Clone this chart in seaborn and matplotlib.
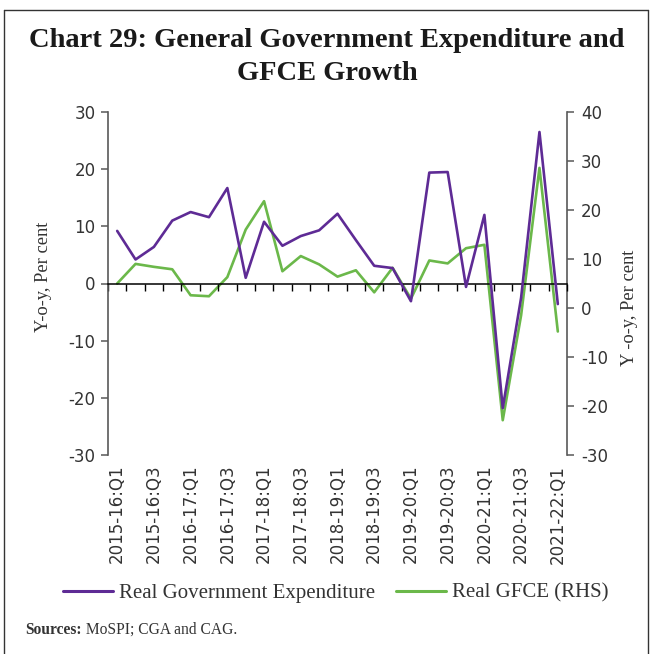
import numpy as np
import pandas as pd
import matplotlib
matplotlib.use("Agg")
import matplotlib.pyplot as plt
from matplotlib.lines import Line2D
from matplotlib.font_manager import FontProperties
import seaborn as sns

# Quarterly y-o-y growth, per cent
quarters = [
    "2015-16:Q1", "2015-16:Q2", "2015-16:Q3", "2015-16:Q4",
    "2016-17:Q1", "2016-17:Q2", "2016-17:Q3", "2016-17:Q4",
    "2017-18:Q1", "2017-18:Q2", "2017-18:Q3", "2017-18:Q4",
    "2018-19:Q1", "2018-19:Q2", "2018-19:Q3", "2018-19:Q4",
    "2019-20:Q1", "2019-20:Q2", "2019-20:Q3", "2019-20:Q4",
    "2020-21:Q1", "2020-21:Q2", "2020-21:Q3", "2020-21:Q4",
    "2021-22:Q1",
]
gov_expenditure = [9.2, 4.2, 6.4, 11.0, 12.5, 11.6, 16.7, 1.0, 10.8, 6.6,
                   8.3, 9.3, 12.2, 7.6, 3.1, 2.7, -3.1, 19.4, 19.5, -0.6,
                   12.0, -21.8, -2.5, 26.5, -3.6]
gfce_rhs = [5.0, 9.0, 8.4, 7.9, 2.6, 2.4, 6.3, 16.0, 21.8, 7.5,
            10.6, 8.9, 6.4, 7.7, 3.2, 8.2, 1.9, 9.7, 9.1, 12.2,
            12.9, -22.9, -1.5, 28.6, -4.8]
left_ticks = [-30, -20, -10, 0, 10, 20, 30]
right_ticks = [-30, -20, -10, 0, 10, 20, 30, 40]

PURPLE = "#5E2B95"
GREEN = "#6BB84A"
SPINE = "#595959"
TEXT = "#333333"

sns.set_style("white")
plt.rcParams["font.family"] = ["DejaVu Sans"]
plt.rcParams["axes.unicode_minus"] = False

serif = "Liberation Serif"
W = H = 654

fig = plt.figure(figsize=(6.54, 6.54), dpi=100)
ax = fig.add_axes([108 / W, 1 - 455 / H, (567 - 108) / W, (455 - 112) / H])
ax2 = ax.twinx()

df = pd.DataFrame({
    "pos": np.arange(len(quarters)),
    "quarter": quarters,
    "gov": gov_expenditure,
    "gfce": gfce_rhs,
})

sns.lineplot(data=df, x="pos", y="gfce", ax=ax2, color=GREEN, lw=1.9,
             sort=False, legend=False, zorder=3)
sns.lineplot(data=df, x="pos", y="gov", ax=ax, color=PURPLE, lw=1.9,
             sort=False, legend=False, zorder=3)

# purple series above the green one
ax.set_zorder(ax2.get_zorder() + 1)
ax.patch.set_visible(False)

n = len(quarters)
ax.set_xlim(-0.5, n - 0.5)
ax.set_ylim(-30, 30)
ax.set_yticks(left_ticks)
ax2.set_ylim(-30, 40)
ax2.set_yticks(right_ticks)
ax.set_xlabel("")
ax.set_ylabel("")
ax2.set_ylabel("")

# category axis drawn along zero, labels at the bottom
ax.set_xticks(df["pos"][::2])
ax.set_xticklabels(df["quarter"][::2])
ax.set_xticks(np.arange(-0.5, n, 1.0), minor=True)
ax.tick_params(axis="x", which="major", bottom=True, top=False, length=0,
               pad=7, labelbottom=True, labeltop=False, labelrotation=90,
               labelsize=12, labelcolor=TEXT)
ax.tick_params(axis="x", which="minor", bottom=False, top=True,
               direction="in", length=5, width=1.0, color="black")

for sp in ["right", "bottom"]:
    ax.spines[sp].set_visible(False)
ax.spines["top"].set_position(("data", 0))
ax.spines["top"].set_color("black")
ax.spines["top"].set_linewidth(1.1)
ax.spines["left"].set_color(SPINE)
ax.spines["left"].set_linewidth(1.2)
for sp in ["left", "top", "bottom"]:
    ax2.spines[sp].set_visible(False)
ax2.spines["right"].set_color(SPINE)
ax2.spines["right"].set_linewidth(1.2)

ax.tick_params(axis="y", left=True, direction="out", length=5, width=1.1,
               color=SPINE, labelsize=12, labelcolor=TEXT, pad=4)
ax2.tick_params(axis="y", right=True, direction="out", length=5, width=1.1,
                color=SPINE, labelsize=12, labelcolor=TEXT, pad=5)

fig.text(43 / W, 1 - 277 / H, "Y-o-y, Per cent", rotation=90, ha="center",
         va="center", family=serif, fontsize=13.3, color=TEXT)
fig.text(630 / W, 1 - 308 / H, "Y -o-y, Per cent", rotation=90, ha="center",
         va="center", family=serif, fontsize=13.3, color=TEXT)

# title
fig.text(0.5, 1 - 47 / H, "Chart 29: General Government Expenditure and",
         ha="center", va="baseline", family=serif, fontweight="bold",
         fontsize=20.5, color="#1a1a1a")
fig.text(0.5, 1 - 80 / H, "GFCE Growth", ha="center", va="baseline",
         family=serif, fontweight="bold", fontsize=20.5, color="#1a1a1a")

# legend
handles = [Line2D([], [], color=PURPLE, lw=2.2),
           Line2D([], [], color=GREEN, lw=2.2)]
fig.legend(handles, ["Real Government Expenditure", "Real GFCE (RHS)"],
           loc="center", bbox_to_anchor=(336 / W, 1 - 593 / H), ncol=2,
           frameon=False, prop=FontProperties(family=serif, size=15),
           handlelength=2.4, handletextpad=0.3, columnspacing=1.0,
           labelcolor=TEXT)

# source note
src = fig.text(25 / W, 1 - 634 / H, "Sources:", ha="left", va="baseline",
               family=serif, fontweight="bold", fontsize=11.2, color=TEXT)
ax.annotate(" MoSPI; CGA and CAG.", xy=(1, 0), xycoords=src,
            ha="left", va="bottom", family=serif, fontsize=11.2, color=TEXT,
            annotation_clip=False)

# panel frame (open at the bottom)
frame_kw = dict(color="#333333", lw=1.0, transform=fig.transFigure)
fig.add_artist(Line2D([4 / W, 4 / W], [0, 1 - 10 / H], **frame_kw))
fig.add_artist(Line2D([4 / W, 648 / W], [1 - 10 / H, 1 - 10 / H], **frame_kw))
fig.add_artist(Line2D([648 / W, 648 / W], [0, 1 - 10 / H], **frame_kw))

fig.savefig("out.png", dpi=100)
